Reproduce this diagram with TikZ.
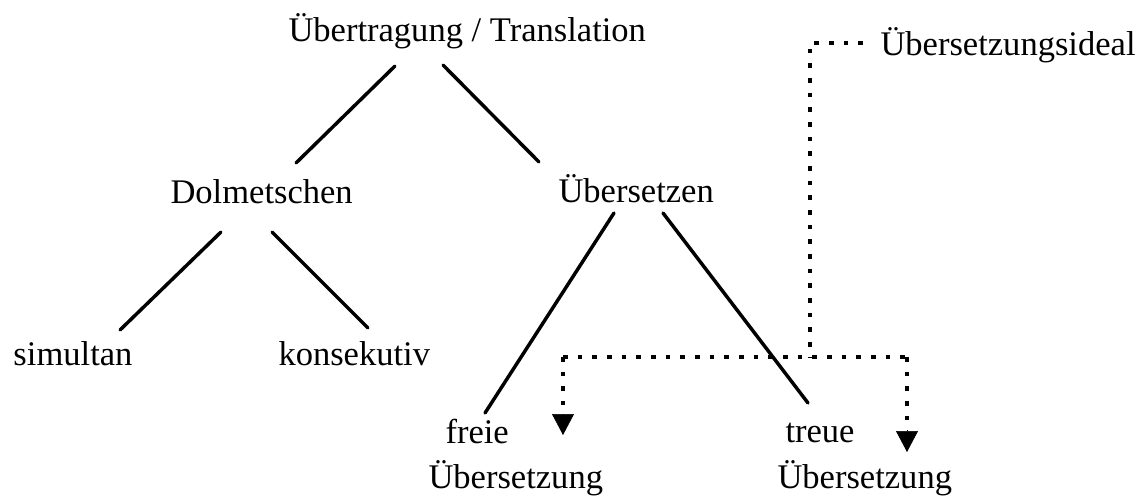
\documentclass[tikz,border=0pt]{standalone}
\usepackage{fontspec}
\setmainfont{Liberation Serif}
\usetikzlibrary{calc,arrows.meta}

\tikzset{every picture/.style={line width=0.75pt}}
\tikzset{
	label text/.style={inner sep=0pt, anchor=base west, font=\fontsize{25.9pt}{31pt}\selectfont},
	branch/.style={line width=2.6pt, line cap=round},
	dotline/.style={line width=2.5pt, dash pattern=on 3.5pt off 7.5pt},
	downtip/.style={line width=0.5pt, -{Triangle[width=16.5pt,length=15.75pt]}}}

\begin{document}
\begin{tikzpicture}[x=0.75pt,y=0.75pt,yscale=-1]
	\path[use as bounding box] (0,0) rectangle (1146,497);

	% Text Node
	\node[label text] (title) at (288,41) {Übertragung / Translation};
	% Text Node
	\node[label text] (ideal) at (880,55) {Übersetzungsideal};
	% Text Node
	\node[label text] (dolm) at (170,203) {Dolmetschen};
	% Text Node
	\node[label text] (uebs) at (558,202) {Übersetzen};
	% Text Node
	\node[label text] (sim) at (13,365) {simultan};
	% Text Node
	\node[label text] (kons) at (278,365) {konsekutiv};
	% Text Node
	\node[label text] (freie) at (445,443) {freie};
	% Text Node
	\node[label text] (freieUe) at (428,488) {Übersetzung};
	% Text Node
	\node[label text] (treue) at (785,442) {treue};
	% Text Node
	\node[label text] (treueUe) at (777,488) {Übersetzung};

	%Straight Lines
	\draw[branch] ($(title.base west)+(107,25)$) -- ($(dolm.base west)+(126,-40)$);
	\draw[branch] ($(title.base west)+(155,24)$) -- ($(uebs.base west)+(-19,-40)$);
	%Straight Lines
	\draw[branch] ($(dolm.base west)+(51,29)$) -- ($(sim.base west)+(107,-35)$);
	\draw[branch] ($(dolm.base west)+(102,29)$) -- ($(kons.base west)+(90,-37)$);
	%Straight Lines
	\draw[branch] ($(uebs.base west)+(56,11)$) -- ($(freie.base west)+(40,-30)$);
	\draw[branch] ($(uebs.base west)+(105,11)$) -- ($(treue.base west)+(23,-39)$);

	%Dotted Lines
	\coordinate (hub) at (810,357);
	\coordinate (leftTurn) at (563,357);
	\coordinate (rightTurn) at (907,357);
	\draw[dotline] ($(ideal.base west)+(-17,-12)$) -| (hub);
	\draw[dotline] (leftTurn) -- (rightTurn);
	\draw[dotline] (leftTurn) -- ++(0,48);
	\draw[dotline] (rightTurn) -- ++(0,63);
	%Arrow Heads
	\draw[downtip] ($(leftTurn)+(0,57)$) -- ($(leftTurn)+(0,78)$);
	\draw[downtip] ($(rightTurn)+(0,73)$) -- ($(rightTurn)+(0,95)$);

\end{tikzpicture}
\end{document}
